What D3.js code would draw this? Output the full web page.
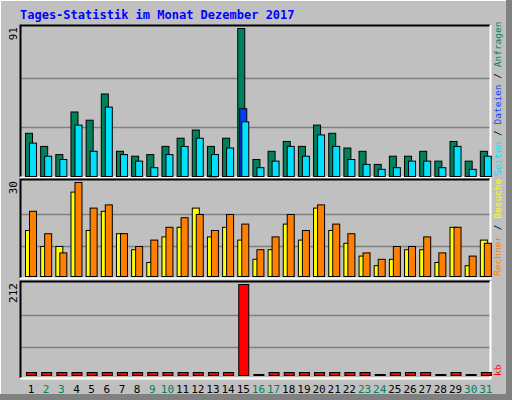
<!DOCTYPE html>
<html><head><meta charset="utf-8">
<script src="https://cdn.jsdelivr.net/npm/d3@7"></script>
<style>body{margin:0;background:#fff}svg{display:block}text{font-family:"DejaVu Sans Mono",monospace}</style>
</head><body><svg id="c" width="512" height="400"></svg>
<script>
const days = d3.range(1,32);
const weekend = [2,3,9,10,16,17,23,24,30,31];
const hits  = [27,19,14,40,35,51,16,13,14,19,24,29,19,24,91,11,16,22,19,32,27,18,16,8,13,13,16,10,22,10,16];
const files = [0,0,0,0,0,0,0,0,0,0,0,0,1,0,42,0,0,0,0,0,0,0,0,0,0,0,0,0,0,0,0];
const pages = [21,13,11,32,16,43,14,10,6,14,19,24,14,18,34,6,10,19,13,26,19,11,8,5,6,10,10,6,19,5,13];
const visits= [15,10,10,27,15,21,14,9,5,13,16,22,13,16,12,6,9,17,12,22,15,11,7,4,6,9,9,5,16,4,12];
const sites = [21,14,8,30,22,23,14,10,12,16,19,20,15,20,17,9,13,20,15,23,17,14,8,6,10,10,13,8,16,7,11];
const kb    = [8,5,5,11,8,11,5,5,5,5,5,8,8,8,212,1,5,5,5,8,8,5,5,1,5,5,5,1,5,1,5];
const maxTop=91, maxMid=30, maxBot=212;

const svg=d3.select("#c");
svg.append("rect").attr("width",512).attr("height",400).attr("fill","#c0c0c0");
svg.append("path").attr("d","M0.5,399 V0.5 H511").attr("stroke","#fff").attr("fill","none");
svg.append("rect").attr("x",506).attr("y",0).attr("width",6).attr("height",400).attr("fill","#808080");
svg.append("rect").attr("x",0).attr("y",394).attr("width",512).attr("height",6).attr("fill","#808080");
svg.append("text").attr("x",20).attr("y",19).attr("fill","#0000ff").attr("font-size",12).attr("font-weight","bold")
  .text("Tages-Statistik im Monat Dezember 2017");

const x0=20,x1=490;
const x=d3.scaleBand().domain(days).range([x0+3,x1+3]).paddingInner(0);

function panel(y0,y1,max,label){
  svg.append("rect").attr("x",x0).attr("y",y0).attr("width",x1-x0).attr("height",y1-y0).attr("fill","#c0c0c0");
  const y=d3.scaleLinear().domain([0,max]).range([y1,y0+3]);
  [1/3,2/3].forEach(f=>svg.append("line").attr("x1",x0).attr("x2",x1).attr("y1",Math.round(y(max*f))+0.5).attr("y2",Math.round(y(max*f))+0.5).attr("stroke","#808080").attr("stroke-width",1.5));
  svg.append("path").attr("d",`M${x0+0.5},${y1} V${y0+0.5} H${x1}`).attr("stroke","#000").attr("stroke-width",2).attr("fill","none");
  svg.append("path").attr("d",`M${x1+0.5},${y0} V${y1+0.5} H${x0}`).attr("stroke","#fff").attr("stroke-width",2).attr("fill","none");
  svg.append("text").attr("transform",`translate(17,${y0+2}) rotate(-90)`).attr("text-anchor","end").attr("font-size",11).text(label);
  return y;
}
function bars(y,vals,off,w,col,yb){
  svg.append("g").selectAll("rect").data(vals.map((v,i)=>({v,d:days[i]})).filter(o=>o.v>0)).join("rect")
   .attr("x",o=>x(o.d)+off+0.5).attr("width",w)
   .attr("y",o=>y(o.v)+0.5).attr("height",o=>Math.max(1,yb-y(o.v)-0.5))
   .attr("fill",col).attr("stroke","#000").attr("stroke-width",1);
}
const yT=panel(25,177,maxTop,String(maxTop));
bars(yT,hits,2,7,"#00805c",176.5);
bars(yT,files,4,7,"#0040ff",176.5);
bars(yT,pages,6,7,"#00e0ff",176.5);
const yM=panel(179,278,maxMid,String(maxMid));
bars(yM,visits,2,7,"#ffff00",276.5);
bars(yM,sites,6,7,"#ff8000",276.5);
const yB=panel(281,378,maxBot,String(maxBot));
svg.append("g").selectAll("rect").data(kb).join("rect")
  .attr("x",(d,i)=>x(days[i])+3.5).attr("width",10)
  .attr("y",d=>d>1?Math.min(yB(d),372)+0.5:374.5).attr("height",d=>d>1?Math.max(3,375-yB(d)):1)
  .attr("fill",d=>d>1?"#ff0000":"#000").attr("stroke","#000");

svg.append("g").selectAll("text").data(days).join("text")
  .attr("x",d=>x(d)+8).attr("y",393).attr("text-anchor","middle").attr("font-size",11)
  .attr("fill",d=>weekend.includes(d)?"#00805c":"#000").text(d=>d);

function side(y,parts){
  const t=svg.append("text").attr("transform",`translate(501,${y}) rotate(-90)`).attr("font-size",9.5);
  parts.forEach(([s,c])=>t.append("tspan").attr("fill",c).text(s));
}
side(176,[["Seiten","#00e0ff"],[" / ","#000"],["Dateien","#0040ff"],[" / ","#000"],["Anfragen","#00805c"]]);
side(276,[["Rechner","#ff8000"],[" / ","#000"],["Besuche","#ffff00"]]);
side(376,[["kb","#ff0000"]]);
</script></body></html>
